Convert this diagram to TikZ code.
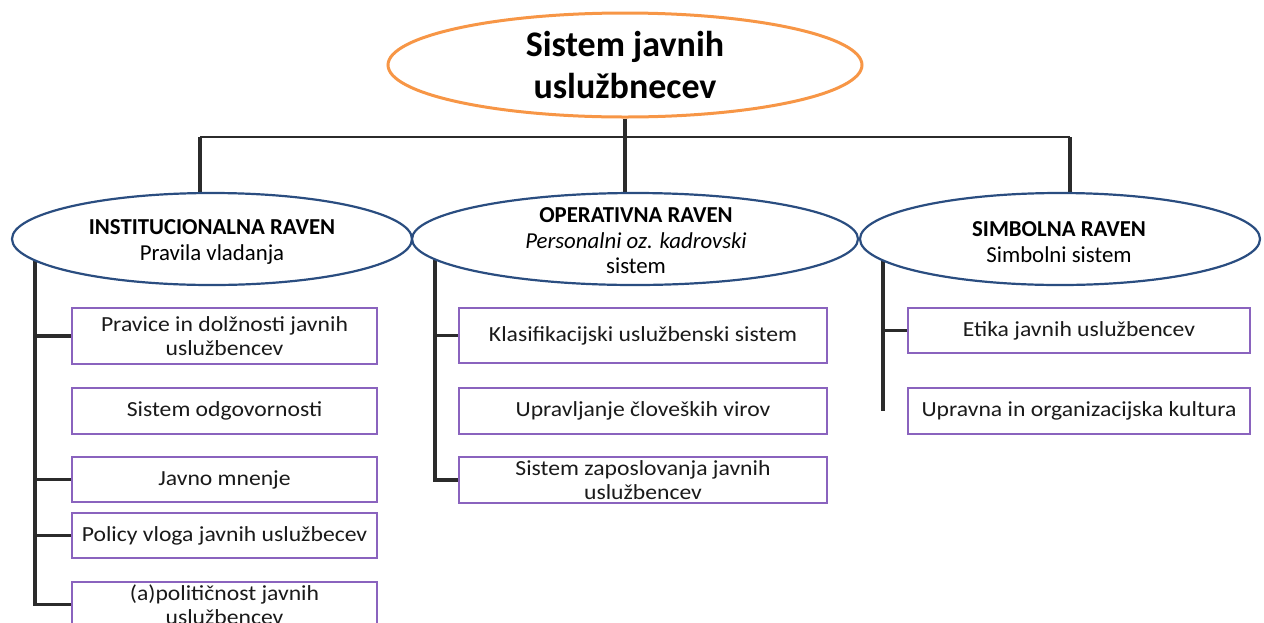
\documentclass[tikz,border=0pt]{standalone}
\usepackage{fontspec}
\setmainfont{Carlito}
\newfontfamily\boxfont[FakeStretch=1.1]{Carlito}
\usetikzlibrary{shapes.geometric,backgrounds}
\definecolor{orng}{HTML}{F79646}
\definecolor{navy}{HTML}{2A4D80}
\definecolor{purp}{HTML}{8A63BE}
\definecolor{conncol}{HTML}{2B2B2B}
\definecolor{txtcol}{HTML}{1A1A1A}
\tikzset{
  topell/.style={ellipse, draw=orng, line width=3pt, fill=white, minimum width=474pt, minimum height=104pt, inner sep=0pt},
  lvlell/.style={ellipse, draw=navy, line width=2.2pt, fill=white, minimum height=92pt, inner sep=0pt},
  titletxt/.style={align=center, font=\fontsize{36}{42}\selectfont\bfseries, inner sep=0pt},
  lvltxt/.style={align=center, font=\fontsize{22.8}{25.5}\selectfont, inner sep=0pt},
  itembox/.style={rectangle, draw=purp, line width=2pt, fill=white, minimum height=46pt, inner sep=0pt, align=center, font=\boxfont\fontsize{21.5}{24}\selectfont, text=txtcol},
  conn/.style={draw=conncol, line width=3.1pt},
}
\begin{document}
\begin{tikzpicture}[x=1pt, y=-1pt]
\useasboundingbox (0,0) rectangle (1264,622);
\clip (0,0) rectangle (1264,622);

% top
\node[topell] (t) at (625,65) {};
\node[titletxt] (tt) at (625,65) {Sistem javnih\\uslužbnecev};

% level ellipses
\node[lvlell, minimum width=400pt] (e1) at (212,239) {};
\node[lvlell, minimum width=446pt] (e2) at (635,239) {};
\node[lvlell, minimum width=400pt] (e3) at (1060,239) {};
\node[lvltxt] (e1t) at (212,242) {\textbf{INSTITUCIONALNA RAVEN}\\Pravila vladanja};
\node[lvltxt] (e2t) at (636,241) {\textbf{OPERATIVNA RAVEN}\\\textit{Personalni oz. kadrovski}\\sistem};
\node[lvltxt] (e3t) at (1059,242) {\textbf{SIMBOLNA RAVEN}\\Simbolni sistem};

% column 1 boxes
\node[itembox, minimum width=305pt, minimum height=56pt] (b11) at (224.5,336) {Pravice in dolžnosti javnih\\uslužbencev};
\node[itembox, minimum width=305pt] (b12) at (224.5,410.5) {Sistem odgovornosti};
\node[itembox, minimum width=305pt, minimum height=45pt] (b13) at (224.5,479.5) {Javno mnenje};
\node[itembox, minimum width=305pt, minimum height=45pt] (b14) at (224.5,535.5) {Policy vloga javnih uslužbecev};
\node[itembox, minimum width=305pt, minimum height=45pt] (b15) at (224.5,604.5) {(a)političnost javnih\\uslužbencev};

% column 2 boxes
\node[itembox, minimum width=368pt, minimum height=55pt] (b21) at (643,335.5) {Klasifikacijski uslužbenski sistem};
\node[itembox, minimum width=368pt] (b22) at (643,410.5) {Upravljanje človeških virov};
\node[itembox, minimum width=368pt] (b23) at (643,480) {Sistem zaposlovanja javnih\\uslužbencev};

% column 3 boxes
\node[itembox, minimum width=342pt, minimum height=45pt] (b31) at (1079,330.5) {Etika javnih uslužbencev};
\node[itembox, minimum width=342pt] (b32) at (1079,410.5) {Upravna in organizacijska kultura};

\begin{scope}[on background layer]
  \coordinate (j1) at (200,137);
  \coordinate (j3) at (1070,137);
  \coordinate (k1) at (35,239);
  \coordinate (k2) at (435,239);
  \coordinate (k3) at (883,239);
  \draw[conn] (t.south) -- (t.south |- e2.north);
  \draw[conn, line width=2.3pt] (j1) -- (j3);
  \draw[conn] (j1) -- (j1 |- e1.north);
  \draw[conn] (j3) -- (j3 |- e3.north);
  % column 1
  \draw[conn] (k1) |- (b15.west);
  \draw[conn] (b11.west) -- (b11.west -| k1);
  \draw[conn] (b13.west) -- (b13.west -| k1);
  \draw[conn] (b14.west) -- (b14.west -| k1);
  % column 2
  \draw[conn] (k2) |- (b23.west);
  \draw[conn] (b21.west) -- (b21.west -| k2);
  % column 3
  \draw[conn] (k3) -- (k3 |- b32.west);
  \draw[conn] (b31.west) -- (b31.west -| k3);
\end{scope}
\end{tikzpicture}
\end{document}
